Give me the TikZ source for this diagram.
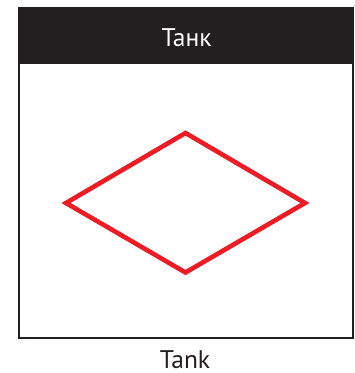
\documentclass[tikz,border=0pt]{standalone}
\usepackage{fontspec}
\setmainfont{PT Sans}
\definecolor{hdr}{HTML}{231F20}
\definecolor{tankred}{HTML}{ED1C24}
\begin{document}
\begin{tikzpicture}[x=1pt,y=-1pt,
  frame/.style={draw=hdr,line width=2pt},
  header/.style={fill=hdr},
  lbl/.style={font=\fontsize{25.5}{30}\selectfont,anchor=base,inner sep=0pt,text depth=0pt},
  symb/.style={draw=tankred,line width=4.6pt,line join=miter}]
\useasboundingbox (0,0) rectangle (355,373);
\fill[white] (0,0) rectangle (355,373);
\draw[frame] (19,8) rectangle (353,338);
\fill[header] (18,7) rectangle (354,64);
\node[lbl,text=white] (title) at (186.5,46.5) {Танк};
\coordinate (l) at (66,203);
\coordinate (t) at (185.5,133);
\coordinate (r) at (305,203);
\coordinate (b) at (185.5,272.5);
\draw[symb] (l) -- (t) -- (r) -- (b) -- cycle;
\node[lbl,text=hdr] (caption) at (185,368.5) {Tank};
\end{tikzpicture}
\end{document}
